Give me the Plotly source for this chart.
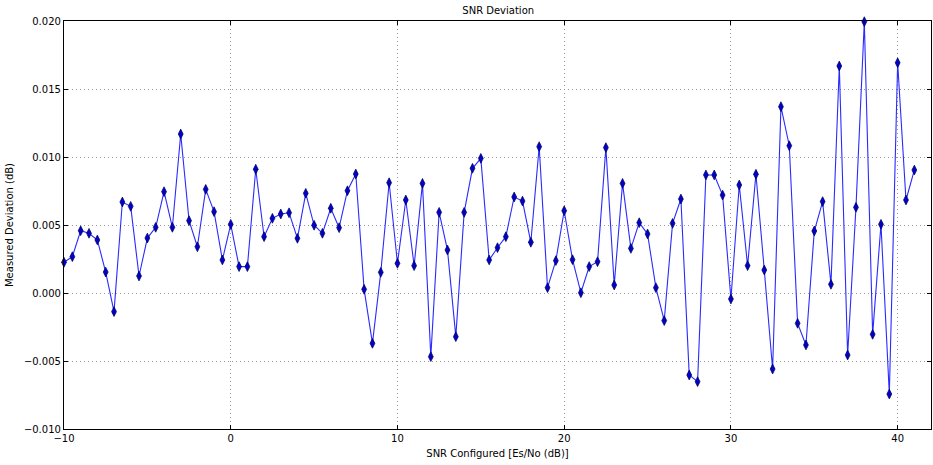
import plotly.graph_objects as go

snr_configured = [-10 + 0.5 * i for i in range(103)]

deviation = [
    0.00226, 0.00267, 0.00458, 0.00439, 0.00390, 0.00154, -0.00137, 0.00669, 0.00637, 0.00125,
    0.00404, 0.00483, 0.00745, 0.00483, 0.01169, 0.00532, 0.00340, 0.00762, 0.00598, 0.00243,
    0.00505, 0.00194, 0.00194, 0.00910, 0.00414, 0.00549, 0.00581, 0.00590, 0.00402, 0.00733,
    0.00498, 0.00439, 0.00623, 0.00480, 0.00752, 0.00875, 0.00027, -0.00370, 0.00152, 0.00811,
    0.00218, 0.00684, 0.00201, 0.00806, -0.00468, 0.00593, 0.00316, -0.00321, 0.00593, 0.00917,
    0.00990, 0.00243, 0.00333, 0.00414, 0.00706, 0.00676, 0.00373, 0.01076, 0.00039, 0.00238,
    0.00605, 0.00245, 0.00002, 0.00194, 0.00230, 0.01069, 0.00059, 0.00806, 0.00328, 0.00517,
    0.00434, 0.00039, -0.00203, 0.00512, 0.00691, -0.00603, -0.00652, 0.00868, 0.00868, 0.00720,
    -0.00044, 0.00794, 0.00201, 0.00873, 0.00169, -0.00559, 0.01370, 0.01083, -0.00223, -0.00382,
    0.00456, 0.00672, 0.00064, 0.01669, -0.00456, 0.00630, 0.01995, -0.00304, 0.00505, -0.00743,
    0.01693, 0.00684, 0.00904,
]

x_ticks = [-10, 0, 10, 20, 30, 40]
y_ticks = [-0.010, -0.005, 0.000, 0.005, 0.010, 0.015, 0.020]

fig = go.Figure()
fig.add_trace(go.Scatter(
    x=snr_configured, y=deviation, mode="lines+markers",
    line=dict(color="#2a2aff", width=1.1),
    marker=dict(symbol="diamond-tall", size=7, color="#0000cc",
                line=dict(color="#000055", width=0.7)),
    cliponaxis=False,
))

font = "DejaVu Sans, sans-serif"
axis_common = dict(
    showline=True, linecolor="black", linewidth=1.2, mirror="allticks",
    ticks="inside", ticklen=4, tickcolor="black",
    showgrid=True, gridcolor="#999999", griddash="1px,3px", gridwidth=1,
    zeroline=False, tickfont=dict(family=font, size=10, color="black"),
)

fig.update_layout(
    width=933, height=465,
    margin=dict(l=64, r=2, t=21, b=36),
    paper_bgcolor="white", plot_bgcolor="white",
    showlegend=False,
    title=dict(text="SNR Deviation", x=0.534, xanchor="center", y=0.985, yanchor="top",
               font=dict(family=font, size=10, color="black")),
    xaxis=dict(range=[-10, 42], tickvals=x_ticks,
               title=dict(text="SNR Configured [Es/No (dB)]", standoff=6,
                          font=dict(family=font, size=10, color="black")),
               **axis_common),
    yaxis=dict(range=[-0.010, 0.020], tickvals=y_ticks, tickformat=".3f",
               title=dict(text="Measured Deviation (dB)", standoff=8,
                          font=dict(family=font, size=10, color="black")),
               **axis_common),
)

fig.write_html("out.html", config={"displayModeBar": False},
               post_script="document.body.style.margin='0';document.body.style.padding='0';")
